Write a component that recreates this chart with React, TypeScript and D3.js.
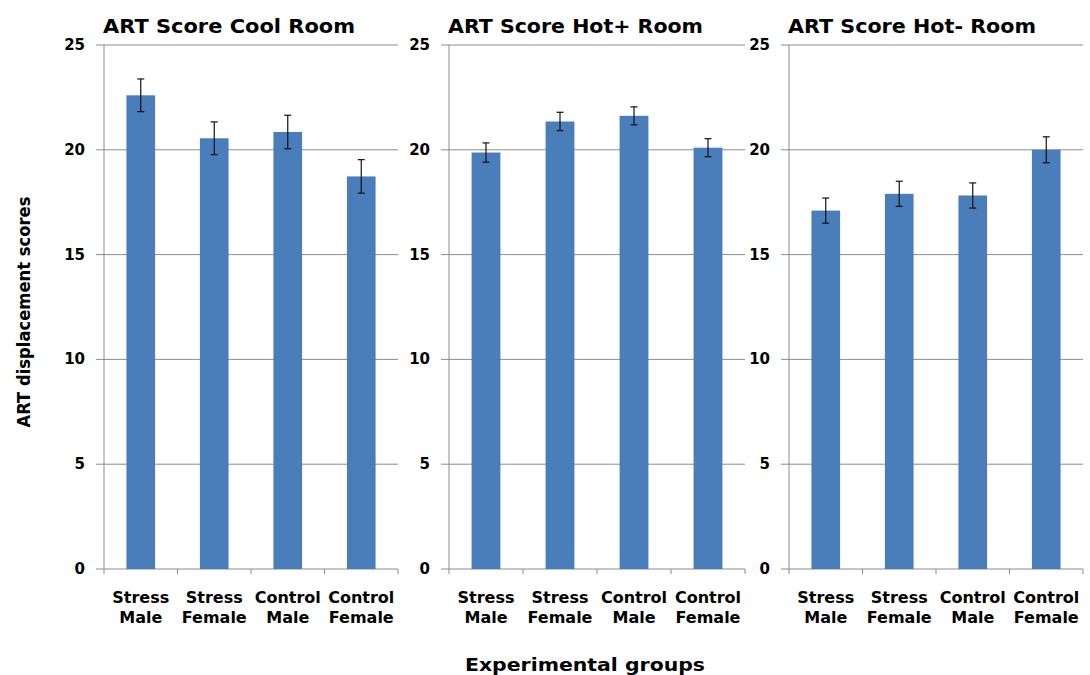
import React from "react";
import * as d3 from "d3";

const categories = ["Stress Male", "Stress Female", "Control Male", "Control Female"];
const panelTitles = ["ART Score Cool Room", "ART Score Hot+ Room", "ART Score Hot- Room"];
const coolValues = [22.6, 20.55, 20.85, 18.73];
const coolErrors = [0.78, 0.78, 0.8, 0.8];
const hotPlusValues = [19.87, 21.35, 21.62, 20.1];
const hotPlusErrors = [0.46, 0.44, 0.43, 0.43];
const hotMinusValues = [17.1, 17.9, 17.82, 20.0];
const hotMinusErrors = [0.6, 0.6, 0.6, 0.62];
const yTicks = [0, 5, 10, 15, 20, 25];
const yTitle = "ART displacement scores";
const xTitle = "Experimental groups";

const panels = [
  { title: panelTitles[0], values: coolValues, errors: coolErrors, x0: 104, x1: 398, tl: 252 },
  { title: panelTitles[1], values: hotPlusValues, errors: hotPlusErrors, x0: 449, x1: 745, tl: 255 },
  { title: panelTitles[2], values: hotMinusValues, errors: hotMinusErrors, x0: 789, x1: 1083, tl: 248 },
];

const FONT = "'DejaVu Sans', Verdana, sans-serif";
const GRID = "#8c8c8c";
const BAR = "#4a7ebb";

export default function App() {
  const y = d3.scaleLinear().domain([0, 25]).range([569, 45]);
  return (
    <svg width={1090} height={675} style={{ position: "absolute", left: 0, top: 0, background: "#fff" }}>
      {panels.map((p, pi) => {
        const x = d3.scaleBand<string>().domain(categories).range([p.x0, p.x1]).paddingInner(0.61).paddingOuter(0.305);
        const step = x.step();
        return (
          <g key={pi}>
            <text x={p.x0 - 1} y={33} fontFamily={FONT} fontWeight="bold" fontSize={20} textLength={p.tl} lengthAdjust="spacingAndGlyphs" fill="#000">
              {p.title}
            </text>
            {yTicks.map((t) => (
              <g key={t}>
                <line x1={p.x0 - 8} x2={p.x1} y1={y(t)} y2={y(t)} stroke={GRID} strokeWidth={1} />
                <text x={p.x0 - 19} y={y(t) + 5} textAnchor="end" fontFamily={FONT} fontWeight="bold" fontSize={15} fill="#000">
                  {t}
                </text>
              </g>
            ))}
            <line x1={p.x0} x2={p.x0} y1={y(25)} y2={y(0)} stroke={GRID} strokeWidth={1} />
            {d3.range(categories.length + 1).map((i) => (
              <line key={i} x1={p.x0 + i * step} x2={p.x0 + i * step} y1={y(0)} y2={y(0) + 5} stroke={GRID} strokeWidth={1} />
            ))}
            {categories.map((c, i) => {
              const bx = x(c) as number;
              const cx = bx + x.bandwidth() / 2;
              const v = p.values[i];
              const e = p.errors[i];
              const words = c.split(" ");
              return (
                <g key={c}>
                  <rect x={bx} y={y(v)} width={x.bandwidth()} height={y(0) - y(v)} fill={BAR} />
                  <line x1={cx} x2={cx} y1={y(v + e)} y2={y(v - e)} stroke="#111" strokeWidth={1.2} />
                  <line x1={cx - 3.5} x2={cx + 3.5} y1={y(v + e)} y2={y(v + e)} stroke="#111" strokeWidth={1.2} />
                  <line x1={cx - 3.5} x2={cx + 3.5} y1={y(v - e)} y2={y(v - e)} stroke="#111" strokeWidth={1.2} />
                  <text x={p.x0 + (i + 0.5) * step} textAnchor="middle" fontFamily={FONT} fontWeight="bold" fontSize={16} fill="#000">
                    <tspan x={p.x0 + (i + 0.5) * step} y={603}>{words[0]}</tspan>
                    <tspan x={p.x0 + (i + 0.5) * step} y={623}>{words[1]}</tspan>
                  </text>
                </g>
              );
            })}
          </g>
        );
      })}
      <text transform="translate(30,312) rotate(-90)" textAnchor="middle" fontFamily={FONT} fontWeight="bold" fontSize={17} textLength={231} lengthAdjust="spacingAndGlyphs" fill="#000">
        {yTitle}
      </text>
      <text x={585} y={671} textAnchor="middle" fontFamily={FONT} fontWeight="bold" fontSize={18} textLength={240} lengthAdjust="spacingAndGlyphs" fill="#000">
        {xTitle}
      </text>
    </svg>
  );
}
